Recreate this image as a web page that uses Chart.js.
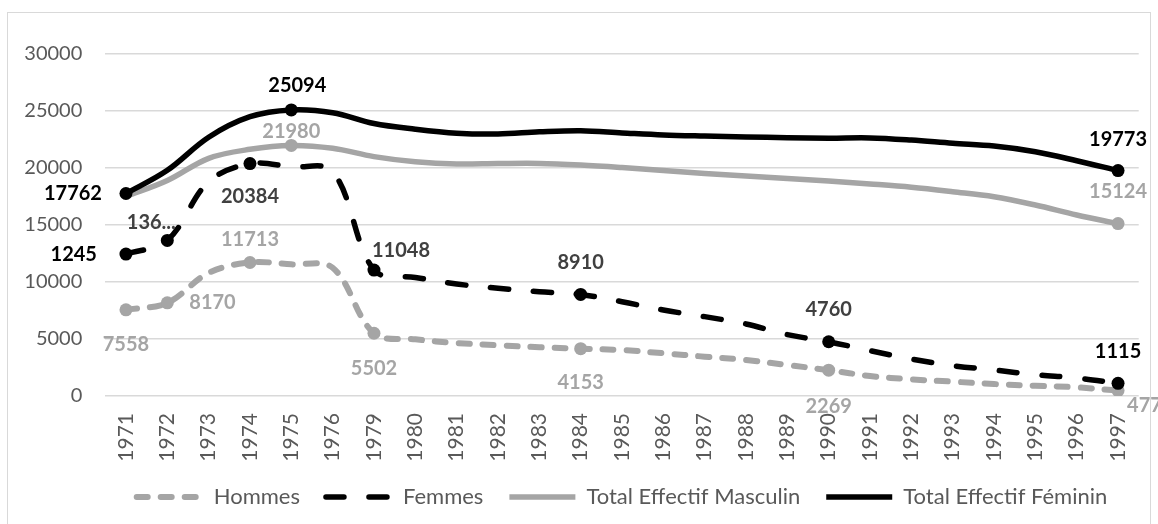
<!DOCTYPE html>
<html>
<head>
<meta charset="utf-8">
<script src="https://cdn.jsdelivr.net/npm/chart.js@4.4.0/dist/chart.umd.min.js"></script>
<style>
  html, body { margin: 0; padding: 0; background: #fff; }
</style>
</head>
<body>
<canvas id="chart" width="1158" height="524"></canvas>
<script>
// Catégories (années)
const years = ['1971', '1972', '1973', '1974', '1975', '1976', '1979', '1980', '1981', '1982', '1983', '1984',
    '1985', '1986', '1987', '1988', '1989', '1990', '1991', '1992', '1993', '1994', '1995', '1996', '1997'];

// Valeurs
const hommes = [7558, 8170, 10800, 11713, 11550, 11250, 5502, 4970, 4650, 4450, 4280, 4153,
    4030, 3750, 3450, 3160, 2720, 2269, 1750, 1460, 1260, 1050, 900, 760, 477];
const femmes = [12450, 13650, 18800, 20384, 20100, 19700, 11048, 10400, 9825, 9450, 9150, 8910,
    8270, 7540, 6960, 6320, 5380, 4760, 3975, 3250, 2660, 2280, 1870, 1580, 1115];
const totalMasculin = [17500, 18900, 20850, 21640, 21980, 21730, 21000, 20550, 20350, 20390, 20400, 20260,
    20040, 19780, 19520, 19300, 19080, 18860, 18600, 18310, 17920, 17485, 16755, 15880, 15124];
const totalFeminin = [17762, 19800, 22700, 24500, 25094, 24850, 23900, 23400, 23050, 22980, 23170, 23270,
    23080, 22900, 22800, 22720, 22660, 22620, 22640, 22450, 22170, 21930, 21430, 20640, 19773];

// Étiquettes affichées (texte tel qu'il apparaît, null = pas d'étiquette)
const _ = null;
const hommesLabels = ['7558', '8170', _, '11713', _, _, '5502', _, _, _, _, '4153',
    _, _, _, _, _, '2269', _, _, _, _, _, _, '477'];
const femmesLabels = ['1245', '136...', _, '20384', _, _, '11048', _, _, _, _, '8910',
    _, _, _, _, _, '4760', _, _, _, _, _, _, '1115'];
const masculinLabels = [_, _, _, _, '21980', _, _, _, _, _, _, _,
    _, _, _, _, _, _, _, _, _, _, _, _, '15124'];
const femininLabels = ['17762', _, _, _, '25094', _, _, _, _, _, _, _,
    _, _, _, _, _, _, _, _, _, _, _, _, '19773'];

const yTicks = [0, 5000, 10000, 15000, 20000, 25000, 30000];

// placement des étiquettes : [dx, dy, alignement]
const placement = {
    hommes: {0: [0, 35, 'center'], 1: [22, 0, 'left'], 3: [0, -23, 'center'], 6: [0, 35, 'center'],
        11: [0, 34, 'center'], 17: [0, 36, 'center'], 24: [9, 15, 'left']},
    femmes: {0: [-29, 0, 'right'], 1: [-16, -18, 'center'], 3: [0, 33, 'center'], 6: [-2, -20, 'left'],
        11: [0, -32, 'center'], 17: [0, -32, 'center'], 24: [0, -32, 'center']},
    masculin: {4: [0, -14, 'center'], 24: [0, -32, 'center']},
    feminin: {0: [-24, 0, 'right'], 4: [6, -24, 'center'], 24: [0, -31, 'center']}
};

const GREY = '#A5A5A5';
const DARK = '#404040';

Chart.defaults.font.family = 'Lato';

const radii = arr => arr.map(t => t ? 6.5 : 0);

// étiquettes de points (Chart.js n'a pas de datalabels intégré)
const pointLabelPlugin = {
    id: 'pointLabels',
    afterDatasetsDraw(chart) {
        const ctx = chart.ctx;
        ctx.save();
        ctx.font = 'bold 20px Lato';
        ctx.textBaseline = 'middle';
        chart.data.datasets.forEach((ds, di) => {
            const meta = chart.getDatasetMeta(di);
            ds.pointText.forEach((txt, i) => {
                if (!txt) return;
                const p = meta.data[i];
                const [dx, dy, align] = ds.place[i];
                ctx.fillStyle = Array.isArray(ds.textColor) ? ds.textColor[i] : ds.textColor;
                ctx.textAlign = align;
                ctx.fillText(txt, p.x + dx, p.y + dy);
            });
        });
        ctx.restore();
    }
};

const framePlugin = {
    id: 'frame',
    beforeDraw(chart) {
        const ctx = chart.ctx;
        ctx.save();
        ctx.fillStyle = '#fff';
        ctx.fillRect(0, 0, chart.width, chart.height);
        ctx.strokeStyle = '#D9D9D9';
        ctx.lineWidth = 1;
        ctx.strokeRect(7.5, 12.5, 1143, 600);
        ctx.restore();
    }
};

const femmesColors = femmesLabels.map((t, i) => (i === 0 || i === 24) ? '#000' : DARK);

new Chart(document.getElementById('chart'), {
    type: 'line',
    data: {
        labels: years,
        datasets: [
            {
                label: 'Hommes',
                data: hommes,
                borderColor: GREY,
                backgroundColor: GREY,
                borderWidth: 6,
                borderDash: [11, 13],
                borderCapStyle: 'round',
                pointRadius: radii(hommesLabels),
                pointBackgroundColor: GREY,
                pointBorderWidth: 0,
                tension: 0.35,
                order: 4,
                pointText: hommesLabels,
                place: placement.hommes,
                textColor: GREY
            },
            {
                label: 'Femmes',
                data: femmes,
                borderColor: '#000',
                backgroundColor: '#000',
                borderWidth: 5.5,
                borderDash: [18, 25],
                borderCapStyle: 'round',
                pointRadius: radii(femmesLabels),
                pointBackgroundColor: '#000',
                pointBorderWidth: 0,
                tension: 0.35,
                order: 3,
                pointText: femmesLabels,
                place: placement.femmes,
                textColor: femmesColors
            },
            {
                label: 'Total Effectif Masculin',
                data: totalMasculin,
                borderColor: GREY,
                backgroundColor: GREY,
                borderWidth: 5.5,
                pointRadius: radii(masculinLabels),
                pointBackgroundColor: GREY,
                pointBorderWidth: 0,
                tension: 0.35,
                order: 2,
                pointText: masculinLabels,
                place: placement.masculin,
                textColor: GREY
            },
            {
                label: 'Total Effectif Féminin',
                data: totalFeminin,
                borderColor: '#000',
                backgroundColor: '#000',
                borderWidth: 5.5,
                pointRadius: radii(femininLabels),
                pointBackgroundColor: '#000',
                pointBorderWidth: 0,
                tension: 0.35,
                order: 1,
                pointText: femininLabels,
                place: placement.feminin,
                textColor: '#000'
            }
        ]
    },
    options: {
        responsive: false,
        animation: false,
        events: [],
        layout: {
            padding: { left: 0, right: 19.3, top: 54, bottom: 6 }
        },
        plugins: {
            tooltip: { enabled: false },
            legend: {
                position: 'bottom',
                fullSize: false,
                labels: {
                    usePointStyle: true,
                    pointStyle: 'line',
                    pointStyleWidth: 66,
                    padding: 26,
                    color: '#595959',
                    font: { size: 22 },
                    // échantillons de ligne repris du style du jeu de données
                    generateLabels: chart => chart.data.datasets.map((ds, i) => ({
                        text: ds.label,
                        datasetIndex: i,
                        fillStyle: ds.borderColor,
                        strokeStyle: ds.borderColor,
                        lineWidth: ds.borderWidth,
                        lineDash: ds.borderDash || [],
                        lineCap: ds.borderCapStyle || 'butt',
                        pointStyle: 'line',
                        hidden: false,
                        fontColor: '#595959'
                    }))
                }
            }
        },
        scales: {
            x: {
                offset: true,
                grid: { display: false },
                border: { display: false },
                ticks: {
                    autoSkip: false,
                    minRotation: 90,
                    maxRotation: 90,
                    padding: 9,
                    color: '#595959',
                    font: { size: 21 }
                },
                afterFit: s => { s.height = 64; }
            },
            y: {
                min: 0,
                max: 30000,
                afterBuildTicks: s => { s.ticks = yTicks.map(v => ({ value: v })); },
                grid: { color: '#D9D9D9', lineWidth: 1.5, drawTicks: false },
                border: { display: false },
                ticks: {
                    padding: 23,
                    color: '#595959',
                    font: { size: 20 },
                    callback: v => String(v)
                },
                afterFit: s => { s.width = 105.3; }
            }
        }
    },
    plugins: [framePlugin, pointLabelPlugin]
});
</script>
</body>
</html>
